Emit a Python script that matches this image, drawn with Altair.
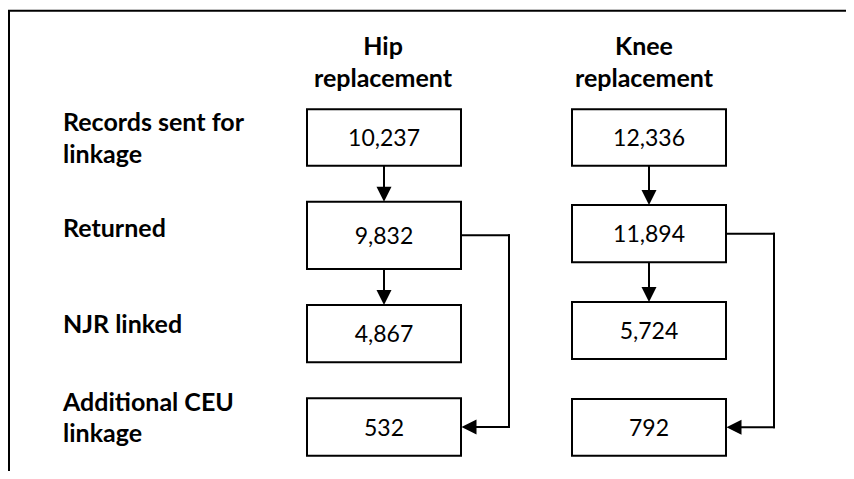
import altair as alt
import pandas as pd

# ---------------- data ----------------
column_headers = [["Hip", "replacement"], ["Knee", "replacement"]]
stage_label_lines = [["Records sent for", "linkage"], ["Returned"], ["NJR linked"],
                     ["Additional CEU", "linkage"]]
hip_counts = [10237, 9832, 4867, 532]
knee_counts = [12336, 11894, 5724, 792]

# ---------------- layout (page pixels) ----------------
W, H = 838, 463          # plot area, starts at page (8, 8)
col_center = [384, 649]
header_center = [383, 644]
box_w = 154
box_top = [[109.3, 201.7, 305, 398.3], [109.3, 205, 302, 399]]
box_bottom = [[165.7, 269, 362.3, 455.7], [165.7, 262.3, 359, 455.7]]
label_x = 63
label_baselines = [[131, 163], [236.7], [332.7], [410.7, 441.7]]
header_baselines = [55, 87]
bypass_offset = 48
head = 15
FONT = "Lato"
LABEL_SIZE = 25

xs = alt.Scale(domain=[8, 8 + W], range=[0, W], zero=False, nice=False)
ys = alt.Scale(domain=[8, 8 + H], reverse=True, zero=False, nice=False)


def X(f):
    return alt.X(f, type="quantitative", scale=xs, axis=None)


def Y(f):
    return alt.Y(f, type="quantitative", scale=ys, axis=None)


counts = [hip_counts, knee_counts]

# boxes + numbers
box_rows = []
for c in range(2):
    for r in range(4):
        t, b = box_top[c][r], box_bottom[c][r]
        box_rows.append(dict(x=col_center[c] - box_w / 2, x2=col_center[c] + box_w / 2,
                             y=t, y2=b, cx=col_center[c], ty=(t + b) / 2 + 8.5,
                             count=counts[c][r]))
boxes_df = pd.DataFrame(box_rows)

# connector segments and arrowheads
seg_rows, down_rows, left_rows = [], [], []
for c in range(2):
    cx = col_center[c]
    right = cx + box_w / 2
    for r in range(2):
        b = box_bottom[c][r]
        t = box_top[c][r + 1]
        seg_rows.append(dict(x=cx, x2=cx, y=b, y2=t - head + 2))
        down_rows.append(dict(x=cx, y=t - head / 2))
    ysrc = (box_top[c][1] + box_bottom[c][1]) / 2
    ydst = (box_top[c][3] + box_bottom[c][3]) / 2
    bx = right + bypass_offset
    seg_rows.append(dict(x=right, x2=bx, y=ysrc, y2=ysrc))
    seg_rows.append(dict(x=bx, x2=bx, y=ysrc, y2=ydst))
    seg_rows.append(dict(x=bx, x2=right + head - 2, y=ydst, y2=ydst))
    left_rows.append(dict(x=right + head / 2 + 0.5, y=ydst))
seg_df = pd.DataFrame(seg_rows)
down_df = pd.DataFrame(down_rows)
left_df = pd.DataFrame(left_rows)

# text lines
label_rows = []
for lines, bls in zip(stage_label_lines, label_baselines):
    for s, yb in zip(lines, bls):
        label_rows.append(dict(x=label_x, y=yb, t=s))
labels_df = pd.DataFrame(label_rows)

header_rows = []
for c, lines in enumerate(column_headers):
    for s, yb in zip(lines, header_baselines):
        header_rows.append(dict(x=header_center[c], y=yb, t=s))
headers_df = pd.DataFrame(header_rows)

frame_df = pd.DataFrame([dict(x=8, x2=8 + W, y=10.8, y2=10.8),
                         dict(x=9, x2=9, y=10.8, y2=8 + H)])

frame = alt.Chart(frame_df).mark_rule(color="black", strokeWidth=2).encode(
    x=X("x"), x2="x2", y=Y("y"), y2="y2")

segs = alt.Chart(seg_df).mark_rule(color="black", strokeWidth=2, strokeCap="square").encode(
    x=X("x"), x2="x2", y=Y("y"), y2="y2")

rects = alt.Chart(boxes_df).mark_rect(fill="white", stroke="black", strokeWidth=2).encode(
    x=X("x"), x2="x2", y=Y("y"), y2="y2")

nums = alt.Chart(boxes_df).mark_text(font=FONT, fontSize=23, color="black",
                                     align="center", baseline="alphabetic").encode(
    x=X("cx"), y=Y("ty"), text=alt.Text("count:Q", format=","))

down_heads = alt.Chart(down_df).mark_point(shape="M-1,-1L1,-1L0,1Z", size=head * head,
                                           filled=True, color="black", opacity=1,
                                           strokeWidth=0).encode(x=X("x"), y=Y("y"))
left_heads = alt.Chart(left_df).mark_point(shape="M1,-1L1,1L-1,0Z", size=head * head,
                                           filled=True, color="black", opacity=1,
                                           strokeWidth=0).encode(x=X("x"), y=Y("y"))

labels = alt.Chart(labels_df).mark_text(font=FONT, fontSize=LABEL_SIZE, fontWeight="bold",
                                        color="black", align="left",
                                        baseline="alphabetic").encode(
    x=X("x"), y=Y("y"), text="t:N")

headers = alt.Chart(headers_df).mark_text(font=FONT, fontSize=LABEL_SIZE, fontWeight="bold",
                                          color="black", align="center",
                                          baseline="alphabetic").encode(
    x=X("x"), y=Y("y"), text="t:N")

chart = alt.layer(frame, segs, rects, nums, down_heads, left_heads, labels, headers).properties(
    width=W, height=H, padding=0, autosize=alt.AutoSizeParams(type="none"),
    background="white"
).configure_view(stroke=None)

chart.save("out.html", embed_options={"renderer": "svg", "actions": False})
